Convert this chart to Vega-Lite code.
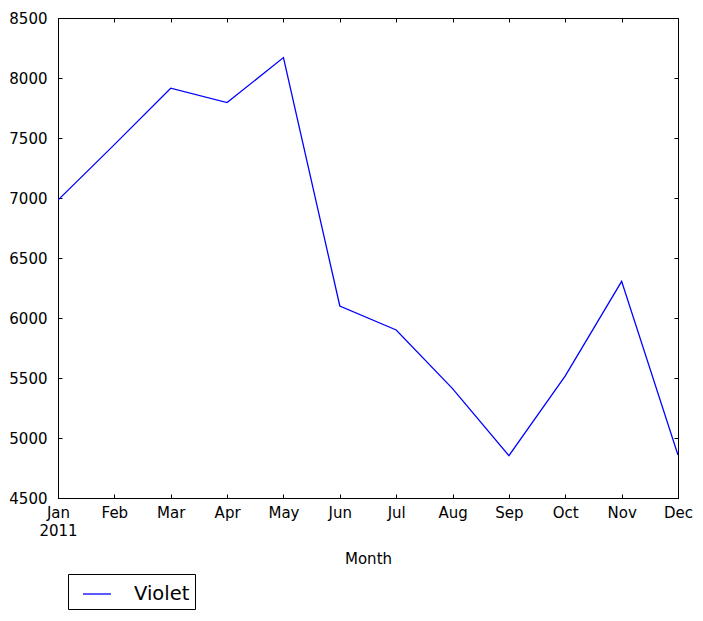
{
  "$schema": "https://vega.github.io/schema/vega-lite/v6.json",
  "width": 620,
  "height": 480,
  "autosize": {"type": "none"},
  "padding": {"left": 58, "top": 18, "right": 25, "bottom": 123},
  "background": "white",
  "config": {
    "view": {"stroke": "black", "strokeWidth": 1},
    "axis": {
      "grid": false,
      "domainColor": "black",
      "domainWidth": 1,
      "tickColor": "black",
      "tickSize": -4,
      "labelColor": "black",
      "labelFont": "DejaVu Sans",
      "labelFontSize": 15,
      "titleFont": "DejaVu Sans",
      "titleFontSize": 15,
      "titleFontWeight": "normal",
      "titleColor": "black"
    },
    "legend": {"labelFont": "DejaVu Sans"}
  },
  "data": {
    "values": [
      {"month": "Jan", "value": 6983},
      {"month": "Feb", "value": 7445},
      {"month": "Mar", "value": 7915},
      {"month": "Apr", "value": 7795},
      {"month": "May", "value": 8170},
      {"month": "Jun", "value": 6100},
      {"month": "Jul", "value": 5900},
      {"month": "Aug", "value": 5412},
      {"month": "Sep", "value": 4853},
      {"month": "Oct", "value": 5518},
      {"month": "Nov", "value": 6305},
      {"month": "Dec", "value": 4858}
    ]
  },
  "layer": [
    {
      "mark": {"type": "line", "strokeWidth": 1.3, "clip": true},
      "encoding": {
        "x": {
          "field": "month",
          "type": "ordinal",
          "sort": null,
          "scale": {"type": "point", "padding": 0},
          "axis": {
            "orient": "bottom",
            "title": "Month",
            "labelAngle": 0,
            "labelExpr": "datum.value == 'Jan' ? ['Jan', '2011'] : datum.value",
            "labelPadding": 11,
            "labelLineHeight": 18,
            "labelBaseline": "top",
            "labelFlush": false,
            "labelOverlap": false,
            "titlePadding": 13
          }
        },
        "y": {
          "field": "value",
          "type": "quantitative",
          "scale": {"domain": [4500, 8500], "nice": false, "zero": false},
          "axis": {
            "orient": "left",
            "title": null,
            "format": "d",
            "values": [4500, 5000, 5500, 6000, 6500, 7000, 7500, 8000, 8500],
            "labelPadding": 15,
            "labelFlush": false,
            "labelOverlap": false
          }
        },
        "color": {
          "datum": "Violet",
          "scale": {"range": ["#0000ff"]},
          "legend": {
            "orient": "none",
            "legendX": 10,
            "legendY": 556,
            "title": null,
            "symbolType": "stroke",
            "symbolSize": 784,
            "symbolStrokeWidth": 1.3,
            "symbolOffset": 9,
            "labelFontSize": 19.5,
            "labelColor": "black",
            "labelOffset": 22,
            "strokeColor": "black",
            "fillColor": "white",
            "padding": 5
          }
        }
      }
    },
    {
      "mark": {"type": "line", "opacity": 0},
      "encoding": {
        "x": {
          "field": "month",
          "type": "ordinal",
          "sort": null,
          "scale": {"type": "point", "padding": 0},
          "axis": {
            "orient": "top",
            "title": null,
            "labels": false,
            "domain": false
          }
        },
        "y": {
          "field": "value",
          "type": "quantitative",
          "axis": {
            "orient": "right",
            "title": null,
            "labels": false,
            "domain": false,
            "values": [4500, 5000, 5500, 6000, 6500, 7000, 7500, 8000, 8500]
          }
        }
      }
    }
  ],
  "resolve": {"axis": {"x": "independent", "y": "independent"}}
}
